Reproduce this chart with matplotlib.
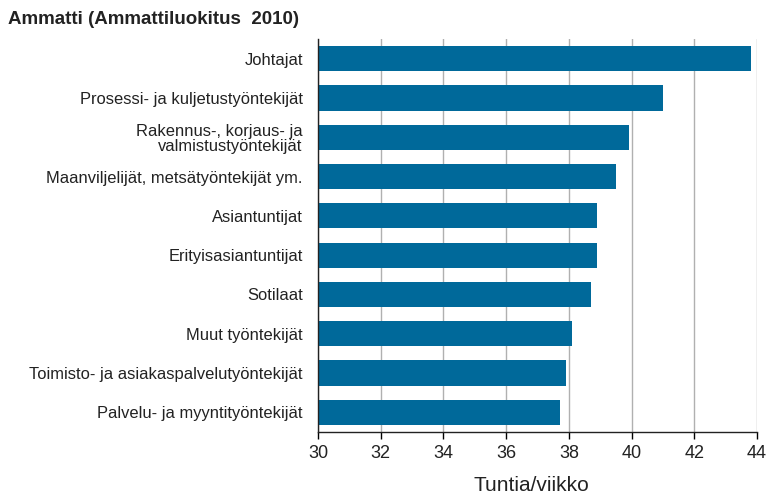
import matplotlib
matplotlib.use("Agg")
import matplotlib.pyplot as plt

plt.rcParams['font.family'] = ['Liberation Sans', 'DejaVu Sans']

# Ammattiryhmät (ylhäältä alas) ja viikkotyöajat
ammatit = [
    'Johtajat',
    'Prosessi- ja kuljetustyöntekijät',
    'Rakennus-, korjaus- ja\nvalmistustyöntekijät',
    'Maanviljelijät, metsätyöntekijät ym.',
    'Asiantuntijat',
    'Erityisasiantuntijat',
    'Sotilaat',
    'Muut työntekijät',
    'Toimisto- ja asiakaspalvelutyöntekijät',
    'Palvelu- ja myyntityöntekijät',
]
tunnit = [43.8, 41.0, 39.9, 39.5, 38.9, 38.9, 38.7, 38.1, 37.9, 37.7]
x_ticks = [30, 32, 34, 36, 38, 40, 42, 44]

fig = plt.figure(figsize=(7.71, 4.94), dpi=100)
ax = fig.add_axes([0.4125, 0.1255, 0.5695, 0.7955])

ypos = list(range(len(ammatit)))
ax.barh(ypos, tunnit, left=0, height=0.64, color='#00699a', zorder=3)
ax.set_ylim(len(ammatit) - 0.5, -0.5)
ax.set_xlim(30, 44)
ax.set_xticks(x_ticks)
ax.set_xticklabels([str(t) for t in x_ticks], fontsize=13, color='#222222')
ax.set_yticks(ypos)
ax.set_yticklabels(ammatit, fontsize=11.9, color='#222222', linespacing=1.05)
ax.tick_params(axis='y', length=0, pad=11)
ax.tick_params(axis='x', length=5, width=1, direction='out', pad=4)

ax.grid(axis='x', color='#b0b0b0', linewidth=1, zorder=0)
for s in ['top', 'right']:
    ax.spines[s].set_visible(False)
for s in ['left', 'bottom']:
    ax.spines[s].set_color('#222222')
    ax.spines[s].set_linewidth(1)
    ax.spines[s].set_zorder(4)

ax.set_xlabel('Tuntia/viikko', fontsize=15, color='#222222')
ax.xaxis.set_label_coords(0.486, -0.137)
ax.xaxis.label.set_verticalalignment('center')
fig.text(0.011, 0.96, 'Ammatti (Ammattiluokitus  2010)', fontsize=13.5,
         fontweight='bold', color='#222222', ha='left', va='center')

fig.savefig('out.png', dpi=100)
